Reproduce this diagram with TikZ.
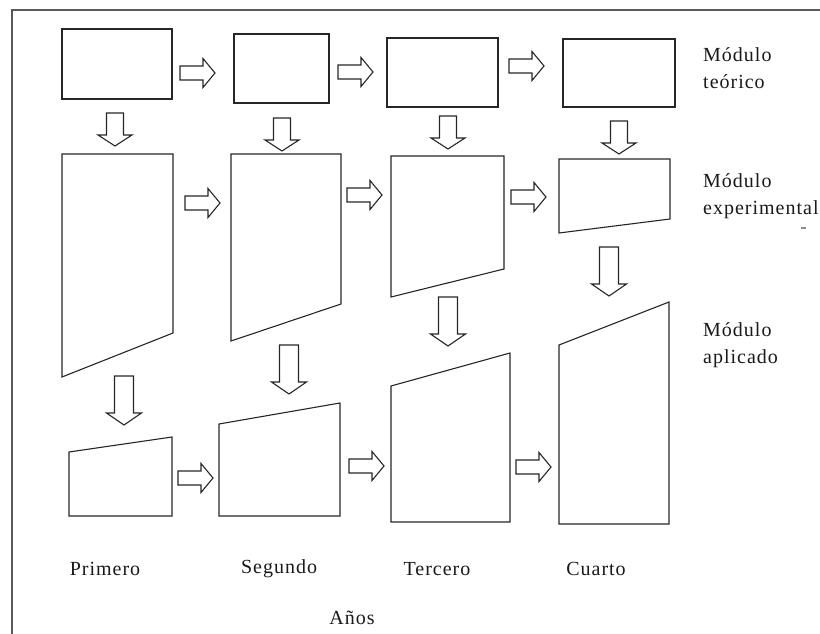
\documentclass[tikz,border=0pt]{standalone}
\usepackage{fontspec}
\setmainfont{Liberation Serif}[LetterSpace=5]
\tikzset{
  linea/.style={draw=black!85, line width=1.1pt, line join=miter},
  rotulo/.style={font=\fontsize{20}{27}\selectfont, text=black!90, inner sep=0pt},
  pics/flecha/.style n args={4}{code={
    \draw[linea] (0,-#1) -- ({#4-#3},-#1) -- ({#4-#3},-#2) -- (#4,0) -- ({#4-#3},#2) -- ({#4-#3},#1) -- (0,#1) -- cycle;
  }}
}
\begin{document}
\begin{tikzpicture}[x=1pt, y=-1pt]
  \useasboundingbox (0,0) rectangle (820,634);
  \draw[black!65, line width=1.2pt] (820,10) -- (12,10) -- (12,634);

  % modulo teorico
  \draw[linea] (62,29) rectangle (172,99);
  \draw[linea] (234,34) rectangle (329,103);
  \draw[linea] (387,38) rectangle (498,107);
  \draw[linea] (563,39) rectangle (675,107);

  % modulo experimental
  \draw[linea] (62,154) -- (173,154) -- (173,333) -- (62,377) -- cycle;
  \draw[linea] (231,154) -- (341,154) -- (341,304) -- (231,341) -- cycle;
  \draw[linea] (391,156) -- (504,156) -- (504,269) -- (391,297) -- cycle;
  \draw[linea] (559,159) -- (670,159) -- (670,219) -- (559,233) -- cycle;

  % modulo aplicado
  \draw[linea] (69,452) -- (172,437) -- (172,516) -- (69,516) -- cycle;
  \draw[linea] (219,424) -- (340,403) -- (340,516) -- (219,516) -- cycle;
  \draw[linea] (391,386) -- (510,353) -- (510,522) -- (391,522) -- cycle;
  \draw[linea] (559,345) -- (669,302) -- (669,524) -- (559,524) -- cycle;

  \foreach \x/\y in {180/73, 338/72, 509/66, 185/203, 347/195, 511/197, 178/478, 349/466, 516/467}
    \pic at (\x,\y) {flecha={7}{14.5}{12}{35}};
  \foreach \x/\y in {115/113, 282/118, 448/116, 619/121}
    \pic[rotate=-90] at (\x,\y) {flecha={8.5}{17}{11}{33}};
  \foreach \x/\y in {124/376, 289/345, 448/297, 609/247}
    \pic[rotate=-90] at (\x,\y) {flecha={9.5}{17.5}{12}{49}};

  \node[rotulo, anchor=west, align=left] (teorico) at (703,68) {Módulo\\teórico};
  \node[rotulo, anchor=west, align=left] (experimental) at (703,196) {Módulo\\experimental};
  \node[rotulo, anchor=west, align=left] (aplicado) at (703,345) {Módulo\\aplicado};
  \draw[black!45, line width=1.5pt] (801,228) -- (806,228);

  \node[rotulo] (primero) at (105,569) {Primero};
  \node[rotulo] (segundo) at (279,569) {Segundo};
  \node[rotulo] (tercero) at (437,569) {Tercero};
  \node[rotulo] (cuarto) at (596,569) {Cuarto};
  \node[rotulo] (anos) at (352,618) {Años};
\end{tikzpicture}
\end{document}
